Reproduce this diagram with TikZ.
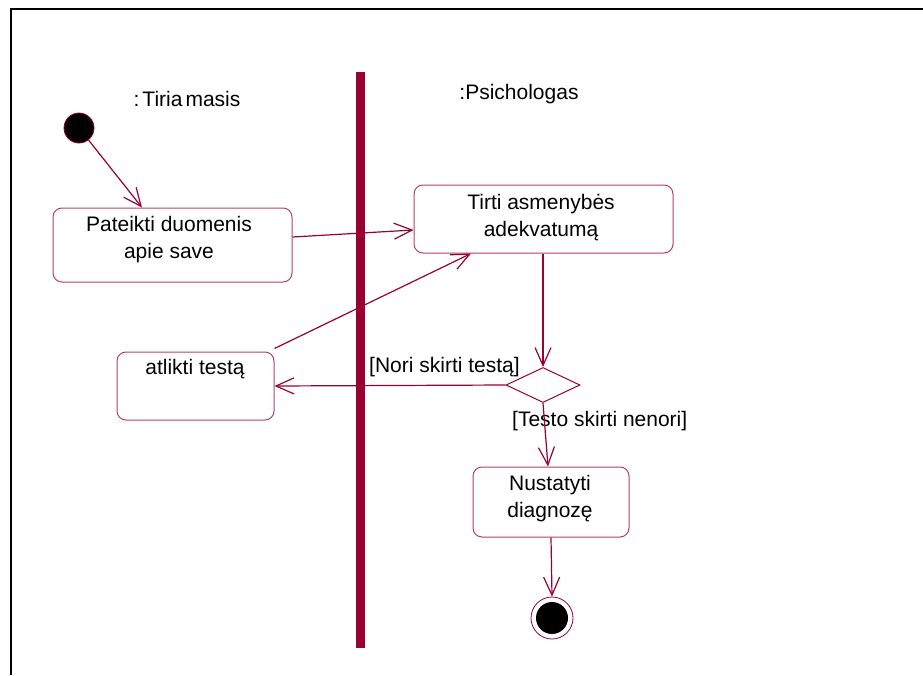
\documentclass[tikz,border=0pt]{standalone}
\usepackage{fontspec}
\setmainfont{Liberation Sans}
\usetikzlibrary{arrows.meta,shapes.geometric}
\definecolor{uml}{HTML}{990033}
\definecolor{umlbox}{HTML}{B5406A}
\begin{document}
\begin{tikzpicture}[x=1pt,y=-1pt,
  act/.style={draw=umlbox, line width=1pt, rounded corners=9pt, fill=white, inner sep=0},
  flow/.style={draw=uml, line width=1.2pt, -{Straight Barb[length=18pt,width=16pt,line width=1.2pt]}},
  txt/.style={font=\fontsize{21}{27}\selectfont, align=center, inner sep=0},
  lbl/.style={font=\fontsize{21}{25}\selectfont, inner sep=0}]
\useasboundingbox (0,0) rectangle (923,675);
% frame
\draw[line width=2.2pt] (923,9) -- (11,9) -- (11,675);
% swimlane divider
\fill[uml] (356,72) rectangle (365,648);
% lane titles
\node[lbl] (laneA) at (187,98.5) {:\kern3pt Tiria\kern3pt masis};
\node[lbl] (laneB) at (519,94) {:Psichologas};
% initial and final states
\node[circle, fill=black, draw=uml, line width=0.8pt, minimum size=30pt, inner sep=0] (start) at (79,128) {};
\node[circle, draw=uml, line width=0.8pt, minimum size=42pt, inner sep=0] (end) at (552,618) {};
\fill[black] (end.center) circle (16pt);
% activities
\node[act, minimum width=239pt, minimum height=74pt] (pat) at (172.5,245) {};
\node[txt] (patT) at (169,239.5) {Pateikti duomenis\\apie save};
\node[act, minimum width=259pt, minimum height=68pt] (tirti) at (543.5,219) {};
\node[txt] (tirtiT) at (541,217.5) {Tirti asmenybės\\adekvatumą};
\node[act, minimum width=157pt, minimum height=68pt] (atl) at (195.5,386) {};
\node[txt] (atlT) at (195,369) {atlikti testą};
\node[act, minimum width=156pt, minimum height=70pt] (diag) at (551,502) {};
\node[txt] (diagT) at (550,498.5) {Nustatyti\\diagnozę};
% decision
\node[diamond, draw=uml, line width=1pt, minimum width=74pt, minimum height=35pt, inner sep=0, fill=white] (dec) at (543,385) {};
% guards
\node[lbl, anchor=west] (g1) at (369,367) {[Nori skirti testą]};
\node[lbl, anchor=west] (g2) at (512,421.5) {[Testo skirti nenori]};
% flows
\draw[flow] (start) -- ([xshift=-30.5pt]pat.north);
\draw[flow] ([yshift=8pt]pat.east) -- ([yshift=-11pt]tirti.west);
\draw[flow] ([yshift=3pt]atl.north east) -- ([xshift=-72.5pt]tirti.south);
\draw[flow] (tirti.south -| dec.north) -- (dec.north);
\draw[flow] (dec.west) -- (atl.east);
\draw[flow] (dec.south) -- ([xshift=-3pt]diag.north);
\draw[flow] (diag.south) -- (end.north);
\end{tikzpicture}
\end{document}
